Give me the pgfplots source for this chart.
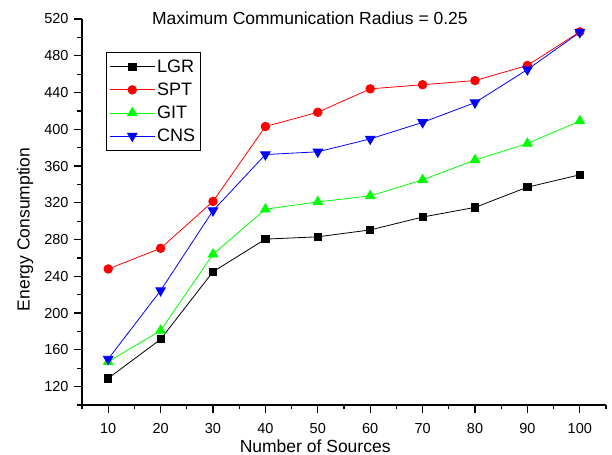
\documentclass[border=0pt]{standalone}
\usepackage{fontspec}
\setmainfont{Liberation Sans}
\usepackage{pgfplots}
\pgfplotsset{compat=1.18}
\begin{document}
\begin{tikzpicture}
\useasboundingbox (0,0) rectangle (612bp,455bp);
\begin{axis}[
  at={(82bp,50bp)}, anchor=south west,
  scale only axis, width=524bp, height=386bp,
  xmin=5, xmax=105, ymin=100, ymax=520,
  axis lines=left,
  axis line style={-, line width=1.2bp},
  xtick={10,20,...,100},
  ytick={120,160,...,520},
  minor xtick={5,15,...,105},
  minor ytick={100,140,...,500},
  tick align=outside,
  major tick length=8bp,
  minor tick length=4.5bp,
  every tick/.style={black, line width=1.2bp},
  /pgf/number format/assume math mode=true,
  ticklabel style={font=\fontsize{14.5bp}{17bp}\selectfont},
  xticklabel style={yshift=-7bp},
  yticklabel style={xshift=-2bp},
  xlabel={Number of Sources},
  ylabel={Energy Consumption},
  label style={font=\fontsize{17.5bp}{20bp}\selectfont},
  xlabel style={at={(axis description cs:0.445,0)}, anchor=base, yshift=-47.5bp},
  ylabel style={at={(axis description cs:-0.1088,0.455)}, anchor=center},
  legend style={at={(axis description cs:0.0458,0.9135)}, anchor=north west,
    draw=black, line width=0.8bp, font=\fontsize{18bp}{20bp}\selectfont,
    inner xsep=3bp, inner ysep=5bp, row sep=5bp, cells={anchor=west}},
  legend image code/.code={\draw[mark repeat=2,mark phase=2] plot coordinates {(0bp,0bp) (22.5bp,0bp) (45bp,0bp)};},
  every axis plot/.append style={line width=0.8bp},
  clip=false,
]
\addplot[black, mark=square*, mark size=3.6bp, mark options={solid, fill=black}] coordinates {
(10,129) (20,171.5) (30,245) (40,280.5) (50,283) (60,290.5) (70,304.5) (80,315) (90,337) (100,350.5)};
\addlegendentry{LGR}
\addplot[red, mark=*, mark size=4.3bp, mark options={solid, fill=red}] coordinates {
(10,248) (20,270.5) (30,321.5) (40,403) (50,418.5) (60,444) (70,448.5) (80,453) (90,469.5) (100,506)};
\addlegendentry{SPT}
\addplot[green, mark=triangle*, mark size=5.5bp, mark options={solid, fill=green}] coordinates {
(10,147) (20,181) (30,264) (40,313) (50,321) (60,327.5) (70,345) (80,366.5) (90,384.5) (100,409)};
\addlegendentry{GIT}
\addplot[blue, mark=triangle*, mark size=5.5bp, mark options={solid, fill=blue, rotate=180}] coordinates {
(10,150) (20,224.5) (30,311.5) (40,372.5) (50,375.5) (60,389.5) (70,407.5) (80,429) (90,465) (100,505.5)};
\addlegendentry{CNS}
\node[anchor=base, inner sep=0pt, font=\fontsize{17.5bp}{20bp}\selectfont] at (axis description cs:0.435,0.9845) {Maximum Communication Radius = 0.25};
\end{axis}
\end{tikzpicture}
\end{document}
